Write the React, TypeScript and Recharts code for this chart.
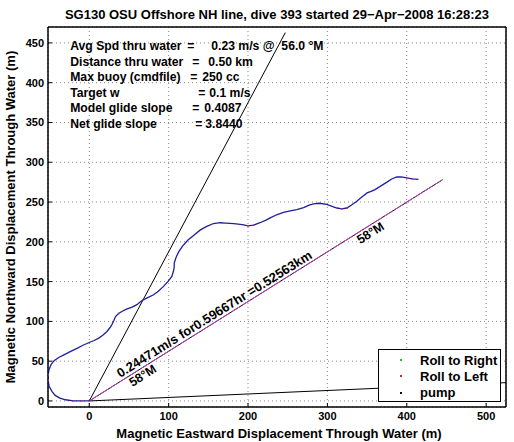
import React from "react"
import { ComposedChart, Line, Scatter, XAxis, YAxis, CartesianGrid, ReferenceDot, ReferenceArea } from "recharts"

const FONT = "'Liberation Sans', Arial, Helvetica, sans-serif"

const xTicks = [0, 100, 200, 300, 400, 500]
const yTicks = [0, 50, 100, 150, 200, 250, 300, 350, 400, 450]
const xDomain = [-52, 525]
const yDomain = [-7.6, 470]

// glider track (m, magnetic east / north through water)
const trackX = [
  0, -10, -20, -30, -37, -43, -47, -50.5, -52, -52, -50.5, -48, -44, -38, -32, -24, -15.5, -8, 0, 6, 12, 17, 22, 26,
  28.5, 31, 33, 37, 41, 47, 54, 60, 66, 73, 81, 87, 93.5, 99, 104, 106, 107, 107, 108.5, 110, 113, 117, 124, 131, 140,
  148, 156.5, 165, 172, 182, 193, 200, 207, 215, 222, 228, 236, 244.7, 253, 261.5, 270, 277, 282.5, 290, 299, 305, 312,
  318, 324.5, 330, 337, 343, 350, 355, 360, 367, 375, 381, 387.5, 393, 400, 407, 414.7,
]
const trackY = [
  0, 0, 0, 1.5, 3.5, 7, 12, 18, 26, 33, 40, 46, 51, 55, 58, 62, 66, 70, 73.5, 76, 79, 82.5, 87, 92,
  96, 101, 106, 110, 112.5, 115.5, 118, 121, 126, 129.5, 133.5, 138, 144, 150, 156.5, 163, 168, 173, 178, 182, 188, 194,
  202, 207.5, 215, 219.5, 223, 224, 223.5, 223, 221.5, 220, 221, 224, 227, 230, 234, 237, 239, 240.5, 243, 246, 247.7,
  248.5, 247, 245, 242.5, 241.5, 242.5, 246, 251, 256, 261.5, 263.5, 265.7, 270, 275, 279, 281.7, 281.5, 280.5, 279, 278.5,
]

const rollLeftX = [-52, -52, -20, -10, 37, 200, 207, 318, 324.5, 400, 407]
const rollLeftY = [26, 33, 0, 0, 110, 220, 221, 241.5, 242.5, 280.5, 279]

const steepX = [0, 247]
const steepY = [0, 463]
const headingX = [0, 445]
const headingY = [0, 278]
const flatX = [0, 525]
const flatY = [0, 23]

const infoLines = [
  ["Avg Spd thru water", "=", "0.23 m/s @  56.0 \u00b0M"],
  ["Distance thru water", "=", "0.50 km"],
  ["Max buoy (cmdfile)", "=", "250 cc"],
  ["Target w", "=", "0.1 m/s"],
  ["Model glide slope", "=", "0.4087"],
  ["Net glide slope", "=", "3.8440"],
]
const infoEqX = [117, 122, 120, 128, 122, 125]
const infoValX = [141, 138, 132, 139, 134, 135]

const legendItems = [
  { name: "Roll to Right", color: "#22cc22" },
  { name: "Roll to Left", color: "#dd2222" },
  { name: "pump", color: "#000000" },
]

const toPts = (xs: number[], ys: number[]) => xs.map((x, i) => ({ x, y: ys[i] }))
const track = toPts(trackX, trackY)
const rollLeft = toPts(rollLeftX, rollLeftY)
const steep = toPts(steepX, steepY)
const heading = toPts(headingX, headingY)
const flat = toPts(flatX, flatY)

const angle = (-Math.atan2(headingY[1], headingX[1]) * 180) / Math.PI

const rotatedText = (text: string, dy: number, size = 12.5) => (p: any) => (
  <text
    x={p.cx}
    y={p.cy}
    dy={dy}
    transform={`rotate(${angle} ${p.cx} ${p.cy})`}
    fontFamily={FONT}
    fontWeight="bold"
    fontSize={size}
    fill="#000"
  >
    {text}
  </text>
)

const infoBlock = (p: any) => (
  <g fontFamily={FONT} fontWeight="bold" fontSize={12.2} fill="#000">
    {infoLines.map((l, i) => (
      <text key={i} y={p.cy + i * 15.5} style={{ whiteSpace: "pre" }}>
        <tspan x={p.cx}>{l[0]}</tspan>
        <tspan x={p.cx + infoEqX[i]}>{l[1]}</tspan>
        <tspan x={p.cx + infoValX[i]}>{l[2]}</tspan>
      </text>
    ))}
  </g>
)

const LegendBox = () => (
  <div
    style={{
      position: "absolute",
      left: 378,
      top: 349,
      border: "1px solid #000",
      background: "#fff",
      width: 123,
      height: 53,
      fontFamily: FONT,
      fontWeight: "bold",
      fontSize: 13,
      paddingTop: 2,
      boxSizing: "border-box",
      whiteSpace: "nowrap",
      overflow: "hidden",
    }}
  >
    {legendItems.map((it) => (
      <div key={it.name} style={{ display: "flex", alignItems: "center", height: 16.3 }}>
        <span style={{ width: 2, height: 2, background: it.color, marginLeft: 21, marginRight: 18, flex: "none" }} />
        <span>{it.name}</span>
      </div>
    ))}
  </div>
)

const tickStyle = { fontFamily: FONT, fontWeight: "bold", fontSize: 11, fill: "#000" }

export default function App() {
  return (
    <div style={{ position: "relative", width: 514, height: 442, background: "#fff" }}>
      <style>{`body{margin:0}`}</style>
      <ComposedChart width={514} height={442} margin={{ top: 26, right: 7, bottom: 0, left: 0 }}>
        <CartesianGrid stroke="#888" strokeDasharray="1 3" />
        <XAxis
          type="number"
          dataKey="x"
          domain={xDomain}
          ticks={xTicks}
          allowDataOverflow
          height={35}
          tickSize={-4}
          tickMargin={9}
          tick={tickStyle}
          stroke="#000"
        />
        <XAxis xAxisId="top" orientation="top" type="number" domain={xDomain} ticks={xTicks} height={1} tickSize={-4} tick={false} stroke="#000" allowDataOverflow />
        <YAxis
          type="number"
          dataKey="y"
          domain={yDomain}
          ticks={yTicks}
          allowDataOverflow
          width={48}
          tickSize={-4}
          tickMargin={8}
          tick={tickStyle}
          stroke="#000"
        />
        <YAxis yAxisId="right" orientation="right" type="number" domain={yDomain} ticks={yTicks} width={1} tickSize={-4} tick={false} stroke="#000" allowDataOverflow />
        <ReferenceArea x1={xDomain[0]} x2={xDomain[1]} y1={yDomain[0]} y2={yDomain[1]} fill="none" stroke="#000" strokeWidth={1} fillOpacity={0} />
        <Line data={flat} dataKey="y" stroke="#000" strokeWidth={1} dot={false} isAnimationActive={false} legendType="none" />
        <Line data={steep} dataKey="y" stroke="#000" strokeWidth={1} dot={false} isAnimationActive={false} legendType="none" />
        <Line data={heading} dataKey="y" stroke="#000" strokeWidth={1} dot={false} isAnimationActive={false} legendType="none" />
        <Line data={heading} dataKey="y" stroke="#d040d0" strokeWidth={1} strokeDasharray="10 2" dot={false} isAnimationActive={false} legendType="none" />
        <Line data={track} dataKey="y" stroke="#1f1f9c" strokeWidth={1.3} dot={false} isAnimationActive={false} legendType="none" />
        <Scatter
          name="Roll to Left"
          data={rollLeft}
          dataKey="y"
          fill="#dd2222"
          isAnimationActive={false}
          shape={(p: any) => <circle cx={p.cx} cy={p.cy} r={0.9} fill="#cc3366" />}
        />
        <ReferenceDot x={-24} y={441} r={0} ifOverflow="visible" shape={infoBlock} />
        <ReferenceDot x={41} y={25.6} r={0} ifOverflow="visible" shape={rotatedText("0.24471m/s for0.59667hr =0.52563km", -3, 13)} />
        <ReferenceDot x={47} y={29.4} r={0} ifOverflow="visible" shape={rotatedText("58\u00b0M", 11)} />
        <ReferenceDot x={334} y={208.7} r={0} ifOverflow="visible" shape={rotatedText("58\u00b0M", 11)} />
      </ComposedChart>
      <LegendBox />
      <svg width={514} height={442} style={{ position: "absolute", left: 0, top: 0, pointerEvents: "none" }}>
        <text x={277} y={19} textAnchor="middle" fontFamily={FONT} fontWeight="bold" fontSize={13}>
          SG130 OSU Offshore NH line, dive 393 started 29{"\u2212"}Apr{"\u2212"}2008 16:28:23
        </text>
        <text x={279} y={438} textAnchor="middle" fontFamily={FONT} fontWeight="bold" fontSize={13}>
          Magnetic Eastward Displacement Through Water (m)
        </text>
        <text x={15} y={217} textAnchor="middle" fontFamily={FONT} fontWeight="bold" fontSize={13} transform="rotate(-90 15 217)">
          Magnetic Northward Displacement Through Water (m)
        </text>
      </svg>
    </div>
  )
}
